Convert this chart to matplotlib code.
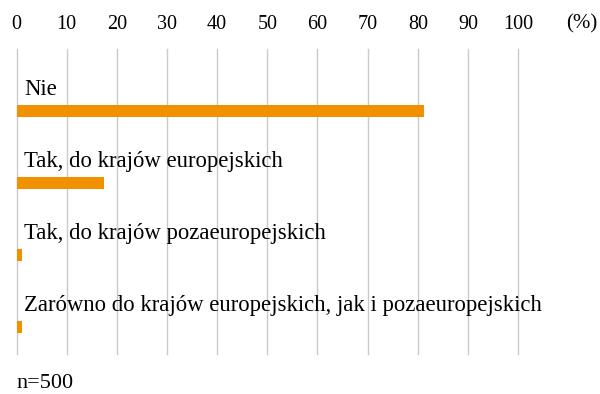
import matplotlib
matplotlib.use('Agg')
import matplotlib.pyplot as plt

# Dane
kategorie = ['Nie',
             'Tak, do krajów europejskich',
             'Tak, do krajów pozaeuropejskich',
             'Zarówno do krajów europejskich, jak i pozaeuropejskich']
wartosci = [81.2, 17.4, 1.0, 1.0]
ticki = list(range(0, 101, 10))

plt.rcParams['font.family'] = 'Liberation Serif'

fig = plt.figure(figsize=(6, 3.94), dpi=100)
ax = fig.add_axes([0.0275, 0.1015, 0.836, 0.7741])

pozycje = list(range(len(kategorie)))
ax.barh(pozycje, wartosci, height=0.166, color='#F29100', zorder=3)

for p, k in zip(pozycje, kategorie):
    ax.text(1.5, p - 0.22, k, fontsize=16.4, va='baseline', ha='left', zorder=4)

ax.set_xlim(0, 100)
ax.set_ylim(len(kategorie) - 1 + 0.373, -0.857)
ax.set_yticks([])
ax.xaxis.tick_top()
ax.set_xticks(ticks=ticki)
ax.set_xticklabels([str(t) for t in ticki], fontsize=14.5)
ax.tick_params(axis='x', length=0, pad=10.5)
ax.grid(axis='x', color='#CACACA', linewidth=1, zorder=0)
for linia in ax.get_xgridlines():
    linia.set_clip_on(False)
for s in ax.spines.values():
    s.set_visible(False)

fig.text(582 / 600, 1 - 23.5 / 394, '(%)', fontsize=15, ha='center', va='center')
fig.text(16 / 600, 1 - 383 / 394, 'n=500', fontsize=16, ha='left', va='center')

fig.savefig('out.png', dpi=100)
